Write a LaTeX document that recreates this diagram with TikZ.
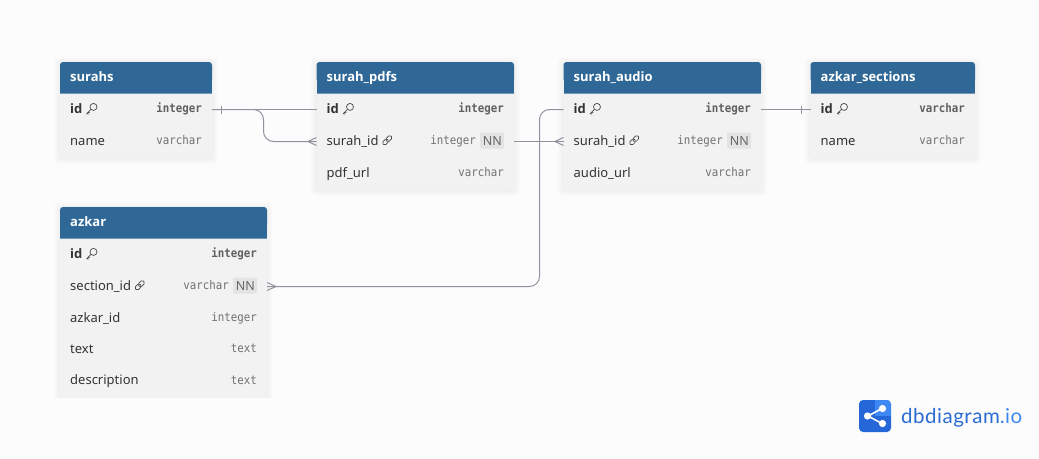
\documentclass[tikz,border=0pt]{standalone}
\usepackage{fontspec}
\setmainfont{Noto Sans}
\newfontfamily\headface{Open Sans}
\newfontfamily\typefont[FakeStretch=0.9]{DejaVu Sans Mono}
\newfontfamily\logofont[LetterSpace=2.5]{Lato}
\usetikzlibrary{calc}
\definecolor{pagebg}{HTML}{FCFCFC}
\definecolor{headbg}{HTML}{2F6896}
\definecolor{headline}{HTML}{6F97B8}
\definecolor{rowbg}{HTML}{F2F2F2}
\definecolor{badge}{HTML}{E3E3E3}
\definecolor{inktext}{HTML}{333333}
\definecolor{typeink}{HTML}{717171}
\definecolor{wire}{HTML}{92929F}
\definecolor{iconink}{HTML}{4A4A4A}
\definecolor{logoblue}{HTML}{2567D8}
\definecolor{logolight}{HTML}{3F87F2}
\definecolor{logotext}{HTML}{2B6CD4}
\definecolor{logotextb}{HTML}{3C88EE}
\tikzset{
  x=1pt,y=-1pt,
  rowslot/.style={inner sep=0pt,outer sep=0pt,minimum height=32pt,anchor=north west},
  tabletitle/.style={anchor=base west,inner sep=0pt,text=white,font=\fontsize{13}{15}\headface\bfseries},
  fieldname/.style={anchor=base west,inner sep=0pt,text=inktext,font=\fontsize{13}{15}\selectfont},
  keyname/.style={anchor=base west,inner sep=0pt,text=inktext,font=\fontsize{13}{15}\headface\bfseries},
  typename/.style={anchor=base east,inner sep=0pt,text=typeink,font=\fontsize{12}{13}\typefont},
  keytype/.style={typename,text=typeink!85!black,font=\fontsize{12}{13}\typefont\bfseries},
  nnbadge/.style={anchor=base east,inner sep=0pt,text=typeink!90!black,font=\fontsize{12.5}{15}\selectfont},
  wireline/.style={draw=wire,line width=1pt},
  iconline/.style={draw=iconink,line width=0.7pt},
}
% #1 id, #2 x, #3 y, #4 width, #5 total height, #6 title
\newcommand{\tablecard}[6]{
  \foreach \s in {1,...,6}{
    \fill[black,opacity=0.008,rounded corners=4pt] ({#2-\s},{#3-\s+1}) rectangle ({#2+#4+\s},{#3+#5+\s+1});
  }
  \fill[rowbg,rounded corners=3pt] (#2,#3) rectangle ({#2+#4},{#3+#5});
  \fill[headbg,rounded corners=3pt] (#2,#3) rectangle ({#2+#4},{#3+20});
  \fill[headbg] (#2,{#3+8}) rectangle ({#2+#4},{#3+32});
  \fill[headline] (#2,{#3+31.3}) rectangle ({#2+#4},{#3+32});
  \node[tabletitle] (#1-title) at ({#2+10},{#3+19.5}) {#6};
}
% #1 node, #2 x, #3 y top, #4 width, #5 name style, #6 name, #7 type style, #8 type
\newcommand{\fieldrow}[8]{
  \node[rowslot,minimum width=#4 pt] (#1) at (#2,#3) {};
  \node[#5] (#1-n) at ({#2+10},{#3+19.8}) {#6};
  \node[#7] (#1-t) at ({#2+#4-10},{#3+19.3}) {#8};
}
% #1 node, #2 x, #3 y top, #4 width, #5 name, #6 type
\newcommand{\fkrow}[6]{
  \node[rowslot,minimum width=#4 pt] (#1) at (#2,#3) {};
  \node[fieldname] (#1-n) at ({#2+10},{#3+19.8}) {#5};
  \fill[badge,rounded corners=1.5pt] ({#2+#4-34},{#3+7}) rectangle ({#2+#4-10},{#3+23});
  \node[nnbadge] (#1-b) at ({#2+#4-12},{#3+19.8}) {NN};
  \node[typename] (#1-t) at ({#2+#4-38},{#3+19.3}) {#6};
  \linkicon{$(#1-n.base east)+(8.5,-5)$}
}
\newcommand{\keyicon}[1]{
  \begin{scope}[shift={(#1)}]
    \draw[iconline] (1.9,-1.9) circle[radius=3.5pt];
    \draw[iconline,line cap=round,line join=round] (-0.6,0.6) -- (-5,5) -- (-3.1,5.2) (-3.6,3.6) -- (-2,3.9);
  \end{scope}
}
\newcommand{\linkicon}[1]{
  \begin{scope}[shift={(#1)},rotate=45]
    \draw[iconline,rounded corners=1.7pt] (-5.6,-2.1) rectangle (0.9,2.1);
    \draw[iconline,rounded corners=1.7pt] (-0.9,-2.1) rectangle (5.6,2.1);
  \end{scope}
}
\begin{document}
\begin{tikzpicture}
\useasboundingbox (0,0) rectangle (1039,458);
\fill[pagebg] (0,0) rectangle (1039,458);

% surahs
\tablecard{surahs}{60}{62}{152}{95}{surahs}
\fieldrow{surahs-id}{60}{93.5}{152}{keyname}{id}{keytype}{integer}
\fieldrow{surahs-name}{60}{125.5}{152}{fieldname}{name}{typename}{varchar}
\keyicon{$(surahs-id-n.base east)+(9,-4.5)$}

% surah_pdfs
\tablecard{pdfs}{316.5}{62}{197.5}{127}{surah\_pdfs}
\fieldrow{pdfs-id}{316.5}{93.5}{197.5}{keyname}{id}{keytype}{integer}
\fkrow{pdfs-sid}{316.5}{125.5}{197.5}{surah\_id}{integer}
\fieldrow{pdfs-url}{316.5}{157.5}{197.5}{fieldname}{pdf\_url}{typename}{varchar}
\keyicon{$(pdfs-id-n.base east)+(9,-4.5)$}

% surah_audio
\tablecard{audio}{563.5}{62}{197.5}{127}{surah\_audio}
\fieldrow{audio-id}{563.5}{93.5}{197.5}{keyname}{id}{keytype}{integer}
\fkrow{audio-sid}{563.5}{125.5}{197.5}{surah\_id}{integer}
\fieldrow{audio-url}{563.5}{157.5}{197.5}{fieldname}{audio\_url}{typename}{varchar}
\keyicon{$(audio-id-n.base east)+(9,-4.5)$}

% azkar_sections
\tablecard{sections}{810.5}{62}{164.5}{95}{azkar\_sections}
\fieldrow{sections-id}{810.5}{93.5}{164.5}{keyname}{id}{keytype}{varchar}
\fieldrow{sections-name}{810.5}{125.5}{164.5}{fieldname}{name}{typename}{varchar}
\keyicon{$(sections-id-n.base east)+(9,-4.5)$}

% azkar (cut off by the lower edge of the export)
\tablecard{azkar}{60}{207}{207}{191}{azkar}
\fill[rowbg] (60,388) rectangle (267,398);
\fill[pagebg] (45,398) rectangle (285,412);
\fieldrow{azkar-id}{60}{238.5}{207}{keyname}{id}{keytype}{integer}
\fkrow{azkar-sid}{60}{270.5}{207}{section\_id}{varchar}
\fieldrow{azkar-zid}{60}{302.5}{207}{fieldname}{azkar\_id}{typename}{integer}
\fieldrow{azkar-text}{60}{333.5}{207}{fieldname}{text}{typename}{text}
\fieldrow{azkar-desc}{60}{365}{207}{fieldname}{description}{typename}{text}
\keyicon{$(azkar-id-n.base east)+(9,-4.5)$}

% connectors
\coordinate (bendA) at (263.5,109.5);
\draw[wireline] (surahs-id.east) -- (pdfs-id.west);
\draw[wireline,rounded corners=10pt] (surahs-id.east) -- (bendA) -- (bendA |- pdfs-sid.west) -- (pdfs-sid.west);
\draw[wireline] ($(surahs-id.east)+(9,-4)$) -- ($(surahs-id.east)+(9,4)$);
\draw[wireline] ($(pdfs-sid.west)+(0,-4)$) -- ($(pdfs-sid.west)+(-8.5,0)$) -- ($(pdfs-sid.west)+(0,4)$);

\draw[wireline] (pdfs-sid.east) -- (audio-sid.west);
\draw[wireline] ($(audio-sid.west)+(0,-4)$) -- ($(audio-sid.west)+(-8.5,0)$) -- ($(audio-sid.west)+(0,4)$);

\coordinate (bendB) at (539.5,109.5);
\draw[wireline,rounded corners=10pt] (azkar-sid.east) -- (bendB |- azkar-sid.east) -- (bendB) -- (audio-id.west);
\draw[wireline] ($(azkar-sid.east)+(0,-4)$) -- ($(azkar-sid.east)+(9,0)$) -- ($(azkar-sid.east)+(0,4)$);

\draw[wireline] (audio-id.east) -- (sections-id.west);
\draw[wireline] ($(sections-id.west)+(-9.5,-4)$) -- ($(sections-id.west)+(-9.5,4)$);

% logo
\fill[logoblue,rounded corners=4pt] (859,400) rectangle (891,432);
\begin{scope}
  \clip[rounded corners=4pt] (859,400) rectangle (891,432);
  \fill[logolight] (875,400) rectangle (891,416);
\end{scope}
\draw[white,line width=1.6pt] (868,416) -- (882,408.5) (868,416) -- (882,423.5);
\fill[white] (867.5,416) circle[radius=3.6pt] (882.5,408.5) circle[radius=3.6pt] (882.5,423.5) circle[radius=3.6pt];
\node[anchor=base west,inner sep=0pt,text=logotext,font=\fontsize{20.5}{24}\logofont] (brand) at (901,423) {dbdiagram\textcolor{logotextb}{.io}};
\end{tikzpicture}
\end{document}
